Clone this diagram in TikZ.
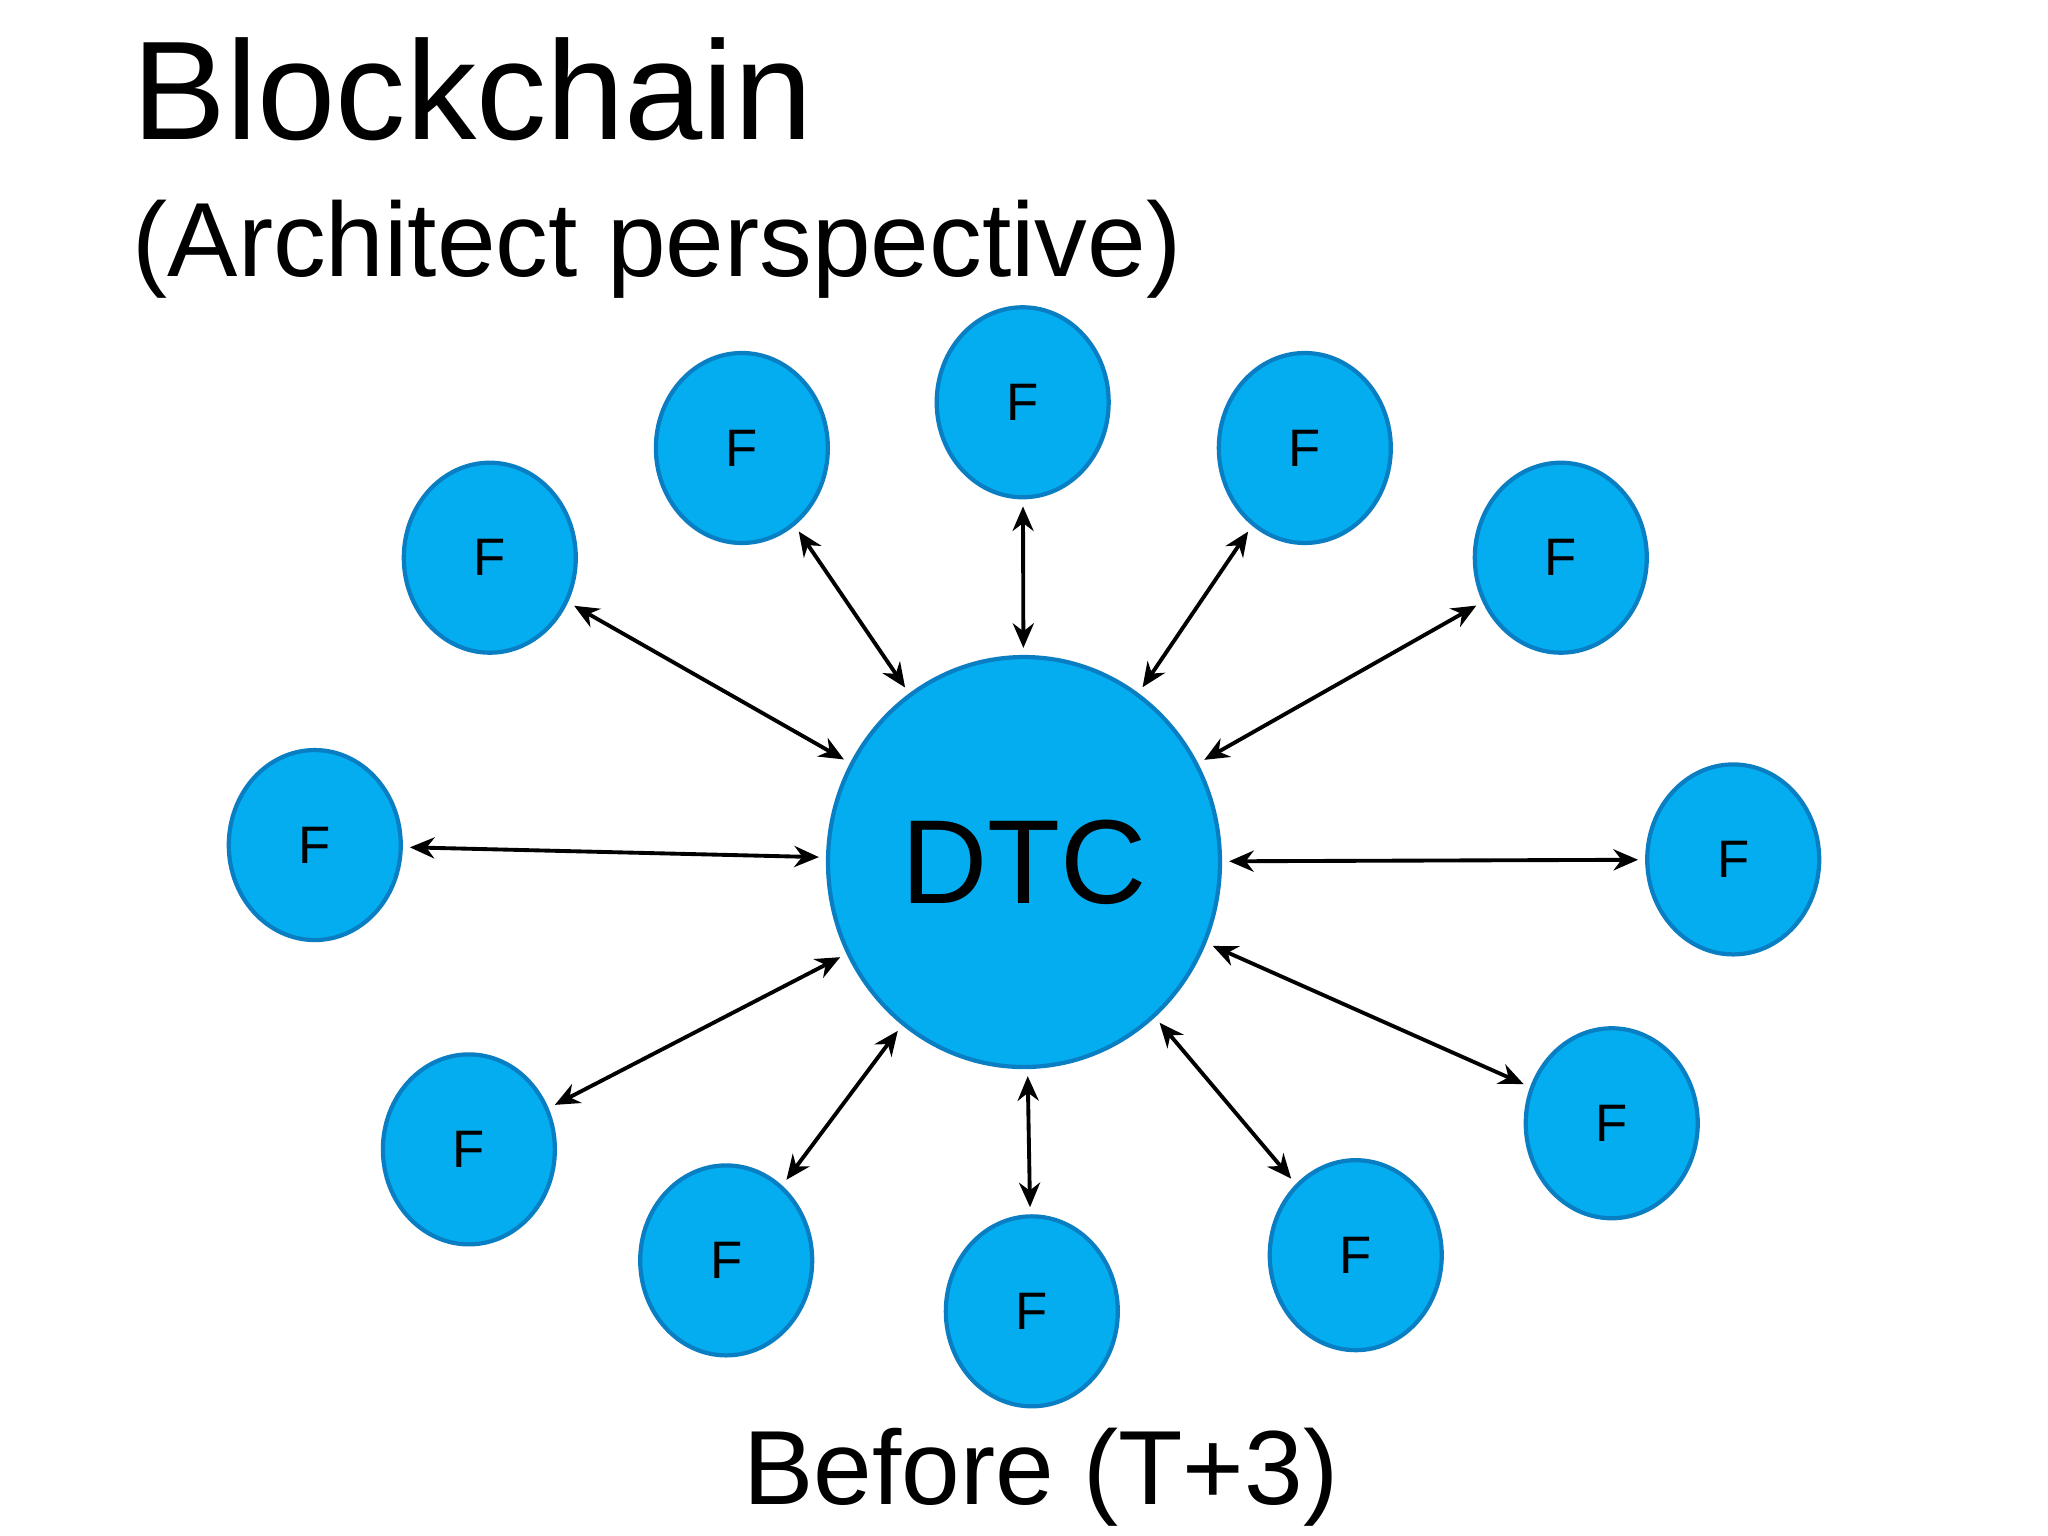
\documentclass[tikz,border=0pt]{standalone}
\usepackage{fontspec}
\setmainfont{Liberation Sans}
\usetikzlibrary{shapes.geometric,arrows.meta}
\definecolor{fillb}{HTML}{03ADF0}
\definecolor{edgeb}{HTML}{0A7EC2}
\begin{document}
\begin{tikzpicture}[x=0.01306cm,y=-0.01306cm,
  node/.style={ellipse,draw=edgeb,fill=fillb,line width=1.2pt,inner sep=0pt,
    minimum width=132\pgflinewidth/1.2,minimum width=1.72cm,minimum height=1.9cm,font=\fontsize{15}{15}\selectfont},
  hub/.style={ellipse,draw=edgeb,fill=fillb,line width=1.2pt,minimum width=3.92cm,minimum height=4.1cm,font=\fontsize{34}{34}\selectfont},
  link/.style={{Stealth[length=7pt,width=6pt]}-{Stealth[length=7pt,width=6pt]},line width=1.1pt,shorten <=2pt,shorten >=2pt}]
\useasboundingbox (0,0) rectangle (1568,1176);
\node[anchor=base west,font=\fontsize{40}{40}\selectfont] (t1) at (92,107) {Blockchain};
\node[anchor=base west,font=\fontsize{30}{30}\selectfont] (t2) at (92,212) {(Architect perspective)};
\node[anchor=base,font=\fontsize{30}{30}\selectfont] (t3) at (797,1152) {Before (T+3)};
\node[hub] (D) at (784,660) {DTC};
\foreach \n/\x/\y in {a/783/308,b/568/343,c/999/343,d/375/427,e/1195/427,f/241/647,g/1327/658,h/359/880,i/1234/860,j/556/965,k/1038/961,l/790/1004}{
  \node[node] (\n) at (\x,\y) {F};
  \draw[link] (D) -- (\n);
}
\end{tikzpicture}
\end{document}
